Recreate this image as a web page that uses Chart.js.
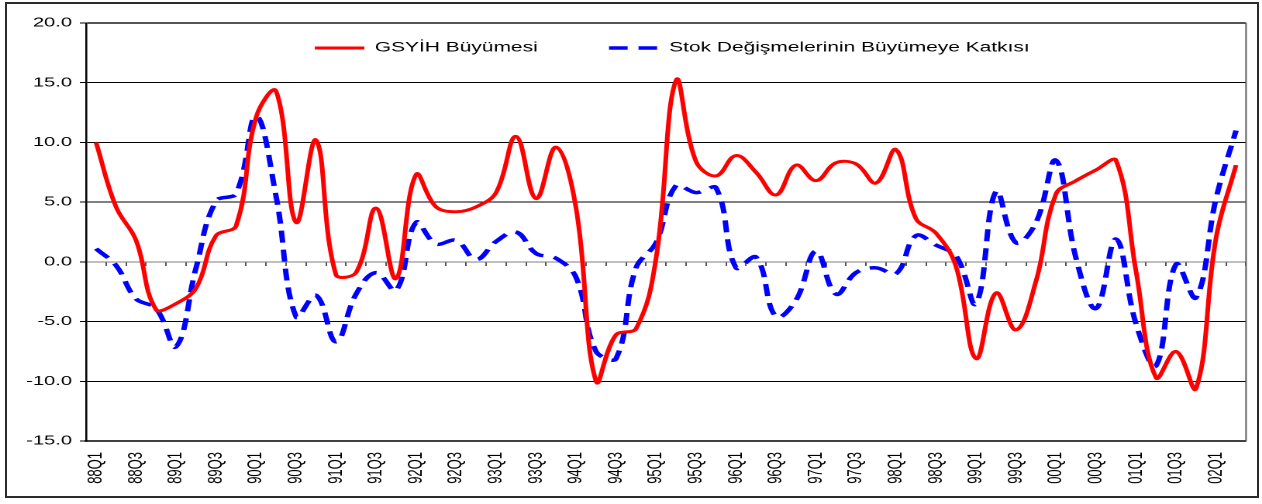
<!DOCTYPE html>
<html>
<head>
<meta charset="utf-8">
<script src="https://cdn.jsdelivr.net/npm/chart.js@4.4.1/dist/chart.umd.min.js"></script>
<style>
  html, body { margin: 0; padding: 0; background: #fff; }
  #wrap { position: relative; width: 1262px; height: 504px; overflow: hidden; }
  #chart { position: absolute; left: 0; top: 0; }
  #frame { position: absolute; left: 5px; top: 2px; width: 1250px; height: 492px; border: 2px solid #2b2b2b; pointer-events: none; }
</style>
</head>
<body>
<div id="wrap">
  <!-- drawn narrow and shown wide: the original picture is stretched sideways -->
  <canvas id="chart" width="814" height="504" style="width:1262px;height:504px"></canvas>
  <div id="frame"></div>
</div>
<script>
const quarters = [
  '88Q1','88Q2','88Q3','88Q4','89Q1','89Q2','89Q3','89Q4',
  '90Q1','90Q2','90Q3','90Q4','91Q1','91Q2','91Q3','91Q4',
  '92Q1','92Q2','92Q3','92Q4','93Q1','93Q2','93Q3','93Q4',
  '94Q1','94Q2','94Q3','94Q4','95Q1','95Q2','95Q3','95Q4',
  '96Q1','96Q2','96Q3','96Q4','97Q1','97Q2','97Q3','97Q4',
  '98Q1','98Q2','98Q3','98Q4','99Q1','99Q2','99Q3','99Q4',
  '00Q1','00Q2','00Q3','00Q4','01Q1','01Q2','01Q3','01Q4',
  '02Q1','02Q2'
];

const gsyihGrowth = [
  10.0, 4.6, 1.8, -4.0, -3.5, -2.2, 2.2, 3.0,
  12.1, 14.3, 3.3, 10.2, -1.1, -0.9, 4.5, -1.4,
  7.3, 4.6, 4.2, 4.6, 5.8, 10.5, 5.3, 9.6,
  4.5, -10.0, -6.1, -5.6, 0.3, 15.2, 8.4, 7.2,
  8.9, 7.5, 5.6, 8.1, 6.8, 8.3, 8.2, 6.6,
  9.4, 3.6, 2.4, -0.4, -8.1, -2.6, -5.7, -1.6,
  5.7, 6.8, 7.7, 8.5, -0.8, -9.7, -7.5, -10.6,
  2.0, 8.1
];

const stockContribution = [
  1.1, -0.3, -3.1, -3.9, -7.1, -0.5, 5.1, 5.7,
  12.2, 5.5, -4.6, -2.8, -6.7, -2.7, -0.9, -2.4,
  3.3, 1.5, 1.8, 0.2, 1.7, 2.5, 0.7, 0.3,
  -1.3, -7.5, -8.1, -0.5, 1.6, 6.4, 5.8, 6.2,
  -0.5, 0.4, -4.6, -3.2, 0.9, -2.7, -0.9, -0.5,
  -1.0, 2.2, 1.4, 0.5, -3.5, 5.9, 1.6, 3.3,
  8.5, 0.3, -3.9, 1.9, -5.2, -8.7, -0.2, -3.0,
  5.3, 11.0
];

const yTickValues = [-15, -10, -5, 0, 5, 10, 15, 20];

const seriesNames = ['GSYİH Büyümesi', 'Stok Değişmelerinin Büyümeye Katkısı'];

Chart.defaults.font.family = "'Liberation Sans', Arial, sans-serif";
Chart.defaults.color = '#000';

const LEGEND_PAD = 46;
const LEGEND_FONT = 13.5;

// legend takes no layout room and is drawn inside the plot, below the top line
const legendOffset = {
  id: 'legendOffset',
  beforeLayout(chart) {
    const lg = chart.legend;
    if (!lg || lg._noHeight) return;
    const fit = lg.fit.bind(lg);
    lg.fit = function () { fit(); this._realHeight = this.height; this.height = 0; };
    lg._noHeight = true;
  },
  afterLayout(chart) {
    const lg = chart.legend;
    if (!lg) return;
    lg.top = 48 - LEGEND_PAD - LEGEND_FONT / 2;
    lg.height = lg._realHeight || lg.height;
    lg.bottom = lg.top + lg.height;
    lg.left += 4;
    lg.right += 4;
  }
};

const plotFrame = {
  id: 'plotFrame',
  beforeDatasetsDraw(chart) {
    const { ctx, chartArea: a } = chart;
    ctx.save();
    ctx.strokeStyle = '#5a5a5a';
    ctx.lineWidth = 1;
    ctx.beginPath();
    ctx.moveTo(a.right, a.top);
    ctx.lineTo(a.right, a.bottom);
    ctx.stroke();
    ctx.restore();
  }
};

new Chart(document.getElementById('chart'), {
  type: 'line',
  data: {
    labels: quarters,
    datasets: [{
      label: seriesNames[0],
      data: gsyihGrowth,
      borderColor: '#ff0000',
      backgroundColor: '#ff0000',
      borderWidth: 3,
      borderJoinStyle: 'round',
      tension: 0.4,
      pointRadius: 0,
      fill: false
    }, {
      label: seriesNames[1],
      data: stockContribution,
      borderColor: '#0000ff',
      backgroundColor: '#0000ff',
      borderWidth: 3.5,
      borderDash: [12, 7],
      tension: 0.4,
      pointRadius: 0,
      fill: false
    }]
  },
  options: {
    responsive: false,
    devicePixelRatio: 2,
    animation: false,
    events: [],
    layout: { padding: { left: 0, right: 10.3, top: 23, bottom: 0 } },
    plugins: {
      tooltip: { enabled: false },
      legend: {
        position: 'top',
        fullSize: false,
        labels: {
          usePointStyle: true,
          pointStyle: 'line',
          pointStyleWidth: 32,
          padding: LEGEND_PAD,
          color: '#000',
          font: { size: LEGEND_FONT },
          generateLabels: chart => Chart.defaults.plugins.legend.labels.generateLabels(chart).map(item => {
            const ds = chart.data.datasets[item.datasetIndex];
            return Object.assign(item, {
              lineWidth: ds.borderWidth,
              lineDash: ds.borderDash || [],
              strokeStyle: ds.borderColor,
              pointStyle: 'line'
            });
          })
        }
      }
    },
    scales: {
      x: {
        offset: true,
        afterFit: s => { s.height = 63; s.paddingLeft = 0; s.paddingRight = 0; },
        grid: { display: false, drawTicks: false },
        border: { display: true, color: '#404040', width: 2 },
        ticks: {
          autoSkip: false,
          minRotation: 90,
          maxRotation: 90,
          padding: 11,
          color: '#000',
          font: { size: 13 },
          callback: (v, i) => (i % 2 === 0 ? quarters[i] : '')
        }
      },
      xz: {
        type: 'category',
        position: { y: 0 },
        offset: true,
        afterFit: s => { s.paddingLeft = 0; s.paddingRight = 0; },
        grid: {
          display: true,
          drawOnChartArea: false,
          drawTicks: true,
          tickLength: 4,
          offset: true,
          color: '#555',
          lineWidth: 1
        },
        border: { display: false },
        ticks: { display: false }
      },
      y: {
        min: -15,
        max: 20,
        afterBuildTicks: s => { s.ticks = yTickValues.map(v => ({ value: v })); },
        afterFit: s => { s.width = 55.5; },
        grid: {
          color: c => (c.tick.value === 0 ? '#7f7f7f' : (c.tick.value === 20 ? '#555' : '#000')),
          lineWidth: c => (c.tick.value === 20 ? 2 : 1),
          tickColor: '#000',
          tickLength: 4,
          tickWidth: 1
        },
        border: { display: true, color: '#000', width: 1.3 },
        ticks: {
          padding: 5,
          color: '#000',
          font: { size: 13 },
          callback: v => Number(v).toFixed(1)
        }
      }
    }
  },
  plugins: [legendOffset, plotFrame]
});
</script>
</body>
</html>
